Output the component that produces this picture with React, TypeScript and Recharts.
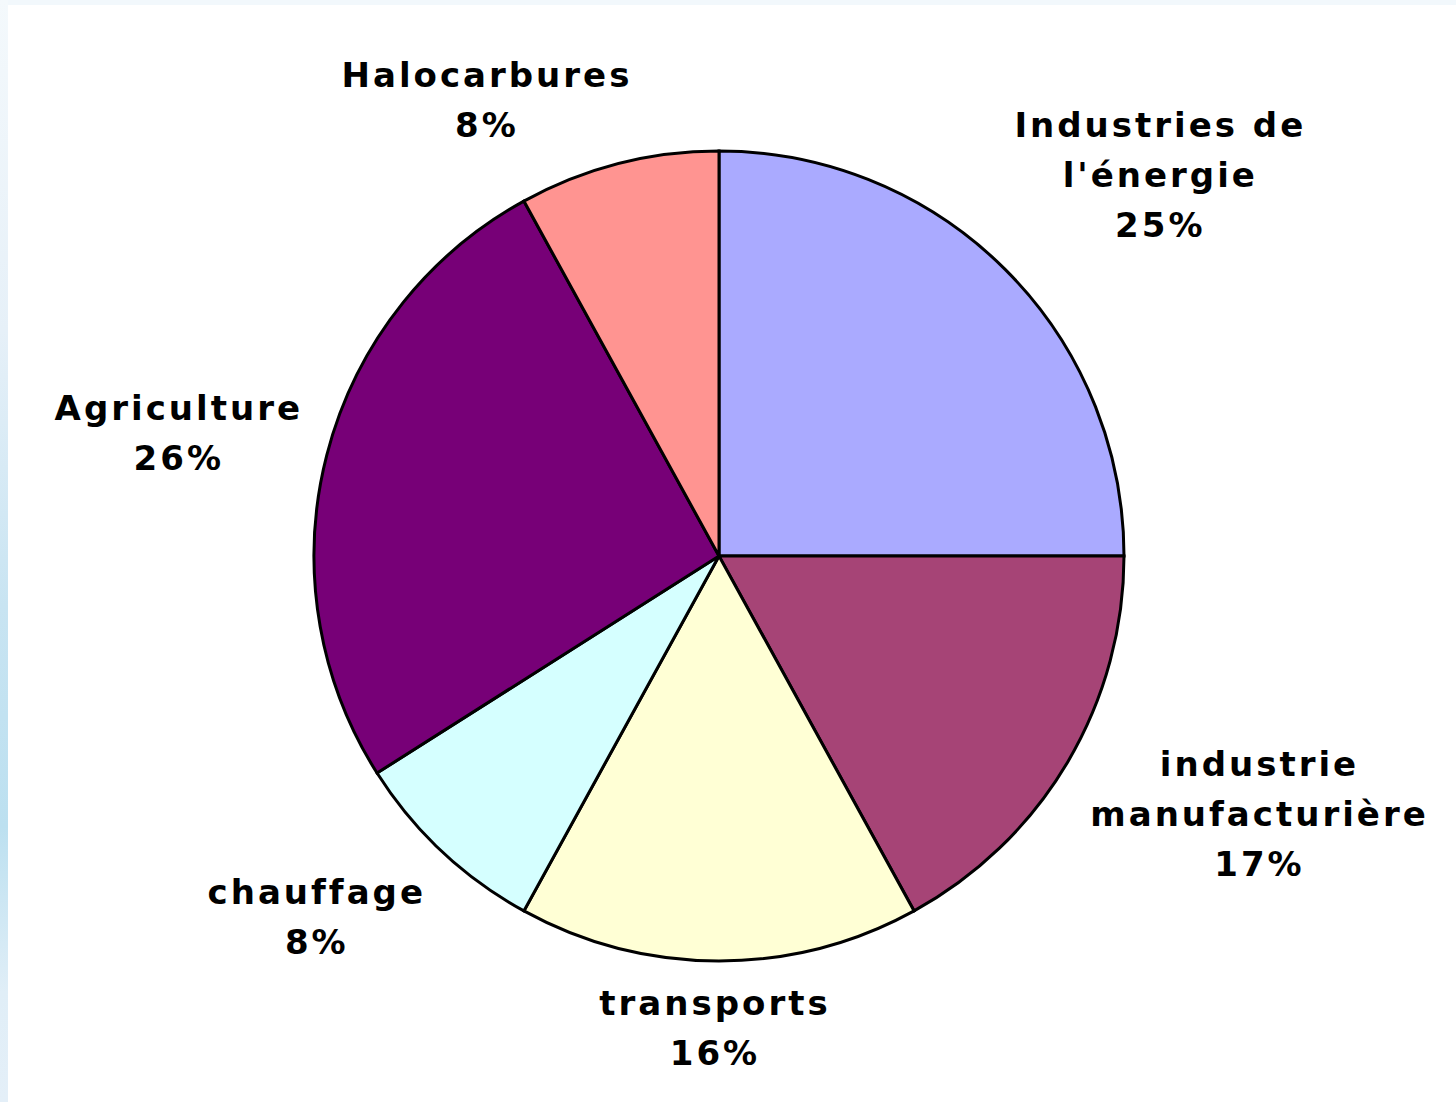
import { PieChart, Pie, Cell } from "recharts";

// parts of emissions (clockwise from 12 o'clock)
const categories = [
  "Industries de\nl'énergie",
  "industrie\nmanufacturière",
  "transports",
  "chauffage",
  "Agriculture",
  "Halocarbures",
];
const shares = [25, 17, 16, 8, 26, 8];
const sliceColors = ["#AAAAFF", "#A64476", "#FFFFD5", "#D5FFFF", "#770077", "#FF9491"];

const data = categories.map((nom, i) => ({ nom, part: shares[i] }));

// small nudges so the text sits where the original had it
const labelNudge = [
  { dx: 63, dy: -3 },
  { dx: 80, dy: -14 },
  { dx: -4, dy: -63 },
  { dx: -36, dy: -29 },
  { dx: -22, dy: 10 },
  { dx: -99, dy: 62 },
];

const RAD = Math.PI / 180;
const LINE_H = 50;

const renderLabel = (props: any) => {
  const { cx, cy, midAngle, outerRadius, index, payload } = props;
  const r = outerRadius + 130;
  const x = cx + r * Math.cos(-midAngle * RAD) + labelNudge[index].dx;
  const y = cy + r * Math.sin(-midAngle * RAD) + labelNudge[index].dy;
  const lines = [...String(payload.nom).split("\n"), `${payload.part}%`];
  const top = y - ((lines.length - 1) * LINE_H) / 2;
  return (
    <text
      x={x}
      y={top}
      textAnchor="middle"
      dominantBaseline="central"
      fill="#000"
      style={{
        fontFamily: "'DejaVu Sans', sans-serif",
        fontWeight: 700,
        fontSize: 34,
        letterSpacing: 3,
      }}
    >
      {lines.map((l, i) => (
        <tspan key={i} x={x} dy={i === 0 ? 0 : LINE_H}>
          {l}
        </tspan>
      ))}
    </text>
  );
};

export default function App() {
  return (
    <div
      style={{
        position: "absolute",
        left: 0,
        top: 0,
        width: 1456,
        height: 1102,
        background: "#fff",
        overflow: "hidden",
      }}
    >
      <div
        style={{
          position: "absolute",
          left: 0,
          top: 0,
          width: 1456,
          height: 5,
          background: "#F2F8FC",
        }}
      />
      <div
        style={{
          position: "absolute",
          left: 0,
          top: 0,
          width: 8,
          height: 1102,
          background:
            "linear-gradient(180deg, #F4F9FC 0%, #E6F0F8 30%, #C8E4F2 55%, #BCE0F0 75%, #E0EEF7 90%, #E4EFF8 100%)",
        }}
      />
      <PieChart width={1456} height={1102} margin={{ top: 0, right: 0, bottom: 0, left: 0 }}>
        <Pie
          data={data}
          dataKey="part"
          nameKey="nom"
          cx={719}
          cy={556}
          outerRadius={405}
          startAngle={90}
          endAngle={-270}
          stroke="#000"
          strokeWidth={3}
          labelLine={false}
          label={renderLabel}
          isAnimationActive={false}
        >
          {data.map((d, i) => (
            <Cell key={d.nom} fill={sliceColors[i]} stroke="#000" strokeWidth={3} />
          ))}
        </Pie>
      </PieChart>
    </div>
  );
}
